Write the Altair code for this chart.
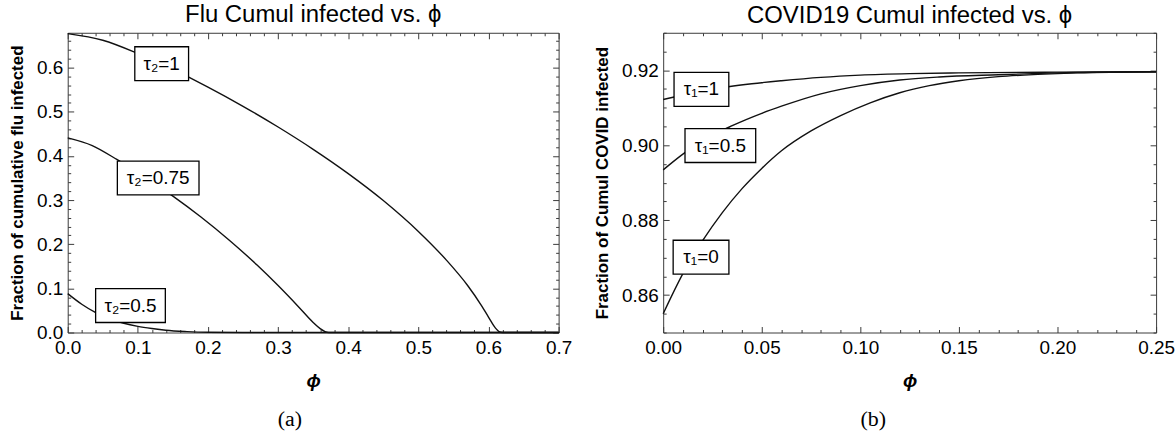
import altair as alt
import pandas as pd

FONT = "Liberation Sans"

# ---------------- data ----------------
# Panel (a): Flu cumulative infected vs phi
flu_phi_tau1 = [0, 0.05, 0.1, 0.15, 0.2, 0.25, 0.3, 0.35, 0.4, 0.45, 0.5, 0.54, 0.57, 0.59, 0.60, 0.61, 0.615, 0.62, 0.65, 0.7]
flu_val_tau1 = [0.677, 0.662, 0.632, 0.596, 0.556, 0.5125, 0.4655, 0.415, 0.360, 0.299, 0.229, 0.164, 0.107, 0.061, 0.035, 0.010, 0.002, 0.0, 0.0, 0.0]

flu_phi_tau075 = [0, 0.035, 0.07, 0.11, 0.15, 0.19, 0.23, 0.27, 0.30, 0.33, 0.35, 0.36, 0.367, 0.372, 0.4, 0.7]
flu_val_tau075 = [0.441, 0.4235, 0.392, 0.352, 0.309, 0.2616, 0.2096, 0.1528, 0.1063, 0.0568, 0.0228, 0.0088, 0.002, 0.0, 0.0, 0.0]

flu_phi_tau05 = [0, 0.02, 0.04, 0.06, 0.08, 0.1, 0.12, 0.14, 0.17, 0.2, 0.25, 0.7]
flu_val_tau05 = [0.088, 0.064, 0.045, 0.031, 0.021, 0.014, 0.009, 0.005, 0.002, 0.0005, 0.0, 0.0]

# Panel (b): COVID19 cumulative infected vs phi
cov_phi_tau1 = [0, 0.01, 0.02, 0.033, 0.045, 0.06, 0.08, 0.1, 0.125, 0.15, 0.2, 0.25]
cov_val_tau1 = [0.9122, 0.9134, 0.9145, 0.9156, 0.9164, 0.9172, 0.9181, 0.9187, 0.9191, 0.9193, 0.9195, 0.9196]

cov_phi_tau05 = [0, 0.01, 0.02, 0.035, 0.05, 0.06, 0.08, 0.1, 0.12, 0.14, 0.17, 0.2, 0.25]
cov_val_tau05 = [0.8934, 0.8976, 0.9012, 0.9052, 0.9085, 0.9104, 0.9137, 0.9159, 0.9174, 0.9182, 0.9188, 0.9193, 0.9196]

cov_phi_tau0 = [0, 0.01, 0.02, 0.03, 0.04, 0.05, 0.06, 0.075, 0.09, 0.105, 0.12, 0.135, 0.15, 0.17, 0.19, 0.21, 0.25]
cov_val_tau0 = [0.855, 0.8657, 0.8745, 0.882, 0.8884, 0.8938, 0.8985, 0.9038, 0.9079, 0.9113, 0.9140, 0.9159, 0.9172, 0.9183, 0.9189, 0.9193, 0.9196]

# curve labels
flu_labels = ["τ₂=1", "τ₂=0.75", "τ₂=0.5"]
cov_labels = ["τ₁=1", "τ₁=0.5", "τ₁=0"]

# label anchor points (data units) and box sizes (px)
flu_label_x = [0.134, 0.129, 0.0895]
flu_label_y = [0.609, 0.350, 0.061]
flu_box_w = [54, 82, 70]
cov_label_x = [0.0194, 0.029, 0.0192]
cov_label_y = [0.9149, 0.8999, 0.8701]
cov_box_w = [55, 71, 56]
BOX_H = 34

# axis ticks
flu_x_major = [0, 0.1, 0.2, 0.3, 0.4, 0.5, 0.6, 0.7]
flu_x_minor = [round(i * 0.02, 2) for i in range(0, 36) if i % 5 != 0]
flu_y_major = [0, 0.1, 0.2, 0.3, 0.4, 0.5, 0.6]
flu_y_minor = [round(i * 0.02, 2) for i in range(0, 34) if i % 5 != 0]
cov_x_major = [0, 0.05, 0.1, 0.15, 0.2, 0.25]
cov_x_minor = [round(i * 0.01, 2) for i in range(0, 26) if i % 5 != 0]
cov_y_major = [0.86, 0.88, 0.90, 0.92]
cov_y_minor = [round(0.85 + i * 0.005, 3) for i in range(0, 17) if i % 4 != 2]

W_L, W_R, H = 493, 495, 301
FRAME = "#3a3a3a"


def panel(series, labels, lx, ly, bw, xmaj, xmin, ymaj, ymin, xdom, ydom,
          xfmt, yfmt, title, ytitle, caption, width, cap_x):
    rows = []
    for lab, xs, ys in series:
        for a, b in zip(xs, ys):
            rows.append({"phi": a, "val": b, "curve": lab})
    df = pd.DataFrame(rows)
    xs = alt.Scale(domain=xdom, nice=False, zero=False)
    ys = alt.Scale(domain=ydom, nice=False, zero=False)

    lines = alt.Chart(df).mark_line(color="#111", strokeWidth=1.4, interpolate="monotone").encode(
        x=alt.X("phi:Q", scale=xs, axis=alt.Axis(
            orient="bottom", values=xmaj, format=xfmt, ticks=False, domain=False, grid=False,
            labelFont=FONT, labelFontSize=19, labelColor="#000", labelPadding=6,
            labelOverlap=False, labelFlush=False,
            title="ϕ", titleFont=FONT, titleFontSize=19, titleFontWeight="bold",
            titleFontStyle="italic", titlePadding=14, titleColor="#000")),
        y=alt.Y("val:Q", scale=ys, axis=alt.Axis(
            orient="left", values=ymaj, format=yfmt, ticks=False, domain=False, grid=False,
            labelFont=FONT, labelFontSize=19, labelColor="#000", labelPadding=5,
            labelOverlap=False, labelFlush=False,
            title=ytitle, titleFont=FONT, titleFontSize=17, titleFontWeight="bold",
            titlePadding=10, titleColor="#000")),
        detail="curve:N",
    )

    tick_layers = []
    for xv, yv, xo, yo, size in [(xmaj, ymaj, "bottom", "left", 6),
                                 (xmaj, ymaj, "top", "right", 6),
                                 (xmin, ymin, "bottom", "left", 3),
                                 (xmin, ymin, "top", "right", 3)]:
        tick_layers.append(alt.Chart(df).mark_point(opacity=0).encode(
            x=alt.X("phi:Q", scale=xs, axis=alt.Axis(
                orient=xo, values=xv, labels=False, domain=False, grid=False, ticks=True,
                tickSize=size, offset=-size, tickColor=FRAME, tickWidth=1, title=None)),
            y=alt.Y("val:Q", scale=ys, axis=alt.Axis(
                orient=yo, values=yv, labels=False, domain=False, grid=False, ticks=True,
                tickSize=size, offset=-size, tickColor=FRAME, tickWidth=1, title=None)),
        ))

    lab_df = pd.DataFrame({"label": labels, "lx": lx, "ly": ly, "bw": bw})
    box_layers = []
    for i in range(len(labels)):
        w = bw[i]
        box_layers.append(alt.Chart(lab_df.iloc[[i]]).mark_rect(
            fill="white", stroke="#000", strokeWidth=1.3,
            xOffset=-w / 2, x2Offset=w / 2, yOffset=-BOX_H / 2, y2Offset=BOX_H / 2).encode(
            x=alt.X("lx:Q", scale=xs, axis=None), x2="lx:Q",
            y=alt.Y("ly:Q", scale=ys, axis=None), y2="ly:Q"))
    texts = alt.Chart(lab_df).mark_text(font=FONT, fontSize=19, color="#000").encode(
        x=alt.X("lx:Q", scale=xs, axis=None), y=alt.Y("ly:Q", scale=ys, axis=None), text="label:N")

    cap = alt.Chart(lab_df.iloc[[0]]).mark_text(
        font="Liberation Serif", fontSize=22, color="#000", baseline="middle").encode(
        x=alt.value(cap_x), y=alt.value(H + 87), text=alt.value(caption))

    layer = alt.layer(lines, *tick_layers, *box_layers, texts, cap).resolve_axis(
        x="independent", y="independent").properties(
        width=width, height=H,
        title=alt.Title(title, font=FONT, fontSize=24, fontWeight="normal", color="#000", offset=4))
    return layer


left = panel(
    [("t1", flu_phi_tau1, flu_val_tau1), ("t075", flu_phi_tau075, flu_val_tau075), ("t05", flu_phi_tau05, flu_val_tau05)],
    flu_labels, flu_label_x, flu_label_y, flu_box_w,
    flu_x_major, flu_x_minor, flu_y_major, flu_y_minor, [0, 0.7], [0, 0.679],
    ".1f", ".1f", "Flu Cumul infected vs. ϕ", "Fraction of cumulative flu infected", "(a)", W_L, 223)

right = panel(
    [("t1", cov_phi_tau1, cov_val_tau1), ("t05", cov_phi_tau05, cov_val_tau05), ("t0", cov_phi_tau0, cov_val_tau0)],
    cov_labels, cov_label_x, cov_label_y, cov_box_w,
    cov_x_major, cov_x_minor, cov_y_major, cov_y_minor, [0, 0.25], [0.85, 0.93],
    ".2f", ".2f", "COVID19 Cumul infected vs. ϕ", "Fraction of Cumul COVID infected", "(b)", W_R, 211)

chart = alt.hconcat(left, right, spacing=20).configure_view(
    stroke=FRAME, strokeWidth=1).properties(
    padding={"left": 8, "top": 1, "right": 0, "bottom": 0}, background="white")

chart.save("out.html", embed_options={"renderer": "svg", "actions": False})
